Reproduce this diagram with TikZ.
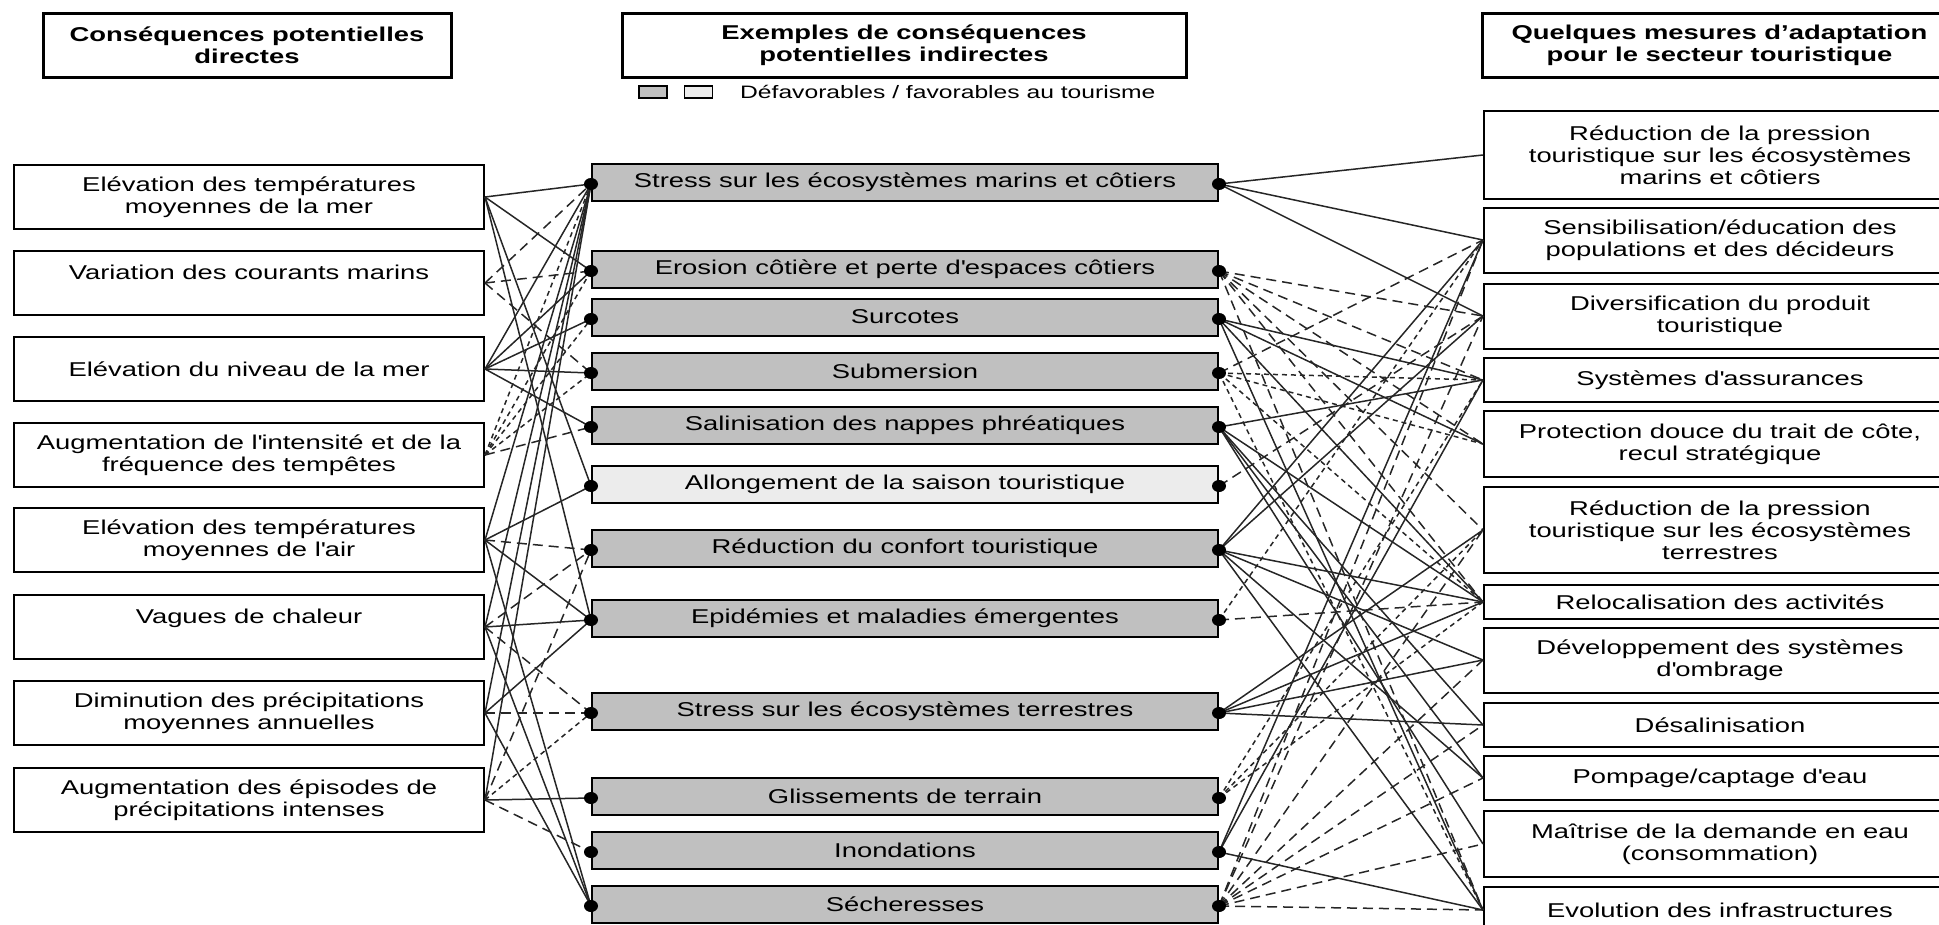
\documentclass[tikz,border=0pt]{standalone}
\usepackage{fontspec}
\setmainfont{Liberation Sans}[FakeStretch=1.37]
\usetikzlibrary{positioning}
\definecolor{boxgray}{HTML}{C0C0C0}
\definecolor{boxlight}{HTML}{ECECEC}
\definecolor{linkdark}{HTML}{262626}
\newcommand{\ap}{\textquotesingle}
\tikzset{every node/.append style={font=\fontsize{20}{22}\selectfont}}

\begin{document}
\begin{tikzpicture}[x=1pt,y=-1pt,
  head/.style={draw,line width=3pt,align=center,minimum height=64pt,inner sep=0pt,
    font=\fontsize{20}{22}\selectfont\bfseries},
  cause/.style={draw,line width=2pt,align=center,minimum width=470pt,minimum height=64pt,inner sep=0pt},
  effect/.style={draw,line width=2pt,fill=boxgray,minimum width=626pt,minimum height=37pt,inner sep=0pt},
  measure/.style={draw,line width=2pt,anchor=west,align=center,minimum width=472pt,inner sep=0pt},
  link/.style={linkdark,line width=1.5pt},
  longdash/.style={link,dash pattern=on 10pt off 6pt},
  shortdash/.style={link,dash pattern=on 5pt off 4pt},
  dot/.style={fill=black}]
  \useasboundingbox (0,0) rectangle (1939,924);

  % headers
  \node[head,minimum width=408pt] (h1) at (247,45) {Conséquences potentielles\\directes};
  \node[head,minimum width=564pt] (h2) at (904,45) {Exemples de conséquences\\potentielles indirectes};
  \node[head,minimum width=474pt,anchor=west] (h3) at (1481,45) {Quelques mesures d’adaptation\\pour le secteur touristique};
  \node[draw,line width=1.3pt,fill=boxgray,minimum width=28pt,minimum height=12pt,inner sep=0pt] (k1) at (653,92) {};
  \node[draw,line width=1.3pt,fill=boxlight,minimum width=28pt,minimum height=12pt,inner sep=0pt,right=16pt of k1] (k2) {};
  \node[right=27pt of k2,inner sep=0pt,font=\fontsize{18}{20}\selectfont] (k3) {Défavorables / favorables au tourisme};

  % direct consequences
  \node[cause] (l1) at (249,197) {Elévation des températures\\moyennes de la mer};
  \node[cause] (l2) at (249,283) {Variation des courants marins\\\mbox{}};
  \node[cause] (l3) at (249,369) {Elévation du niveau de la mer};
  \node[cause] (l4) at (249,455) {Augmentation de l\ap intensité et de la\\fréquence des tempêtes};
  \node[cause] (l5) at (249,540) {Elévation des températures\\moyennes de l\ap air};
  \node[cause] (l6) at (249,627) {Vagues de chaleur\\\mbox{}};
  \node[cause] (l7) at (249,713) {Diminution des précipitations\\moyennes annuelles};
  \node[cause] (l8) at (249,800) {Augmentation des épisodes de\\précipitations intenses};

  % indirect consequences
  \node[effect] (m1) at (905,182) {Stress sur les écosystèmes marins et côtiers};
  \node[effect] (m2) at (905,269) {Erosion côtière et perte d\ap espaces côtiers};
  \node[effect] (m3) at (905,317) {Surcotes};
  \node[effect] (m4) at (905,371) {Submersion};
  \node[effect] (m5) at (905,425) {Salinisation des nappes phréatiques};
  \node[effect,fill=boxlight] (m6) at (905,484) {Allongement de la saison touristique};
  \node[effect] (m7) at (905,548) {Réduction du confort touristique};
  \node[effect] (m8) at (905,618) {Epidémies et maladies émergentes};
  \node[effect] (m9) at (905,711) {Stress sur les écosystèmes terrestres};
  \node[effect] (m10) at (905,796) {Glissements de terrain};
  \node[effect] (m11) at (905,850) {Inondations};
  \node[effect] (m12) at (905,904) {Sécheresses};
  \foreach \m in {1,...,12} {
    \coordinate (m\m-in) at ([yshift=-2pt]m\m.west);
    \coordinate (m\m-out) at ([yshift=-2pt]m\m.east);
  }

  % adaptation measures
  \node[measure,minimum height=88pt] (r1) at (1483,155) {Réduction de la pression\\touristique sur les écosystèmes\\marins et côtiers};
  \node[measure,minimum height=65pt] (r2) at (1483,240) {Sensibilisation/éducation des\\populations et des décideurs};
  \node[measure,minimum height=65pt] (r3) at (1483,316) {Diversification du produit\\touristique};
  \node[measure,minimum height=44pt] (r4) at (1483,380) {Systèmes d\ap assurances};
  \node[measure,minimum height=66pt] (r5) at (1483,444) {Protection douce du trait de côte,\\recul stratégique};
  \node[measure,minimum height=86pt] (r6) at (1483,530) {Réduction de la pression\\touristique sur les écosystèmes\\terrestres};
  \node[measure,minimum height=34pt] (r7) at (1483,602) {Relocalisation des activités};
  \node[measure,minimum height=65pt] (r8) at (1483,660) {Développement des systèmes\\d\ap ombrage};
  \node[measure,minimum height=44pt] (r9) at (1483,725) {Désalinisation};
  \node[measure,minimum height=44pt] (r10) at (1483,778) {Pompage/captage d\ap eau};
  \node[measure,minimum height=66pt] (r11) at (1483,844) {Maîtrise de la demande en eau\\(consommation)};
  \node[measure,minimum height=46pt] (r12) at (1483,910) {Evolution des infrastructures};

  % direct -> indirect
  \foreach \a/\b in {l1/m1,l1/m2,l1/m6,l1/m8,l3/m1,l3/m2,l3/m3,l3/m4,l3/m5,
      l5/m1,l5/m6,l5/m8,l5/m12,l6/m1,l6/m8,l6/m12,l7/m1,l7/m8,l7/m12,l8/m1,l8/m10}
    \draw[link] (\a.east) -- (\b-in);
  \foreach \a/\b in {l2/m1,l2/m2,l2/m4,l4/m5,l5/m7,l6/m7,l6/m9,l7/m9,l8/m7,l8/m11}
    \draw[longdash] (\a.east) -- (\b-in);
  \foreach \a/\b in {l4/m1,l4/m2,l4/m3,l4/m4,l8/m9}
    \draw[shortdash] (\a.east) -- (\b-in);

  % indirect -> measures
  \foreach \a/\b in {m1/r1,m1/r2,m1/r3,m3/r4,m3/r5,m3/r7,m3/r12,m5/r4,m5/r7,m5/r9,m5/r10,m5/r11,
      m7/r2,m7/r3,m7/r7,m7/r8,m7/r10,m7/r12,m9/r6,m9/r7,m9/r8,m9/r9,m11/r2,m11/r4,m11/r12}
    \draw[link] (\a-out) -- (\b.west);
  \foreach \a/\b in {m2/r3,m2/r4,m2/r5,m2/r6,m2/r7,m2/r12,m4/r2,m6/r3,m8/r7,
      m12/r2,m12/r3,m12/r6,m12/r8,m12/r9,m12/r10,m12/r11,m12/r12}
    \draw[longdash] (\a-out) -- (\b.west);
  \foreach \a/\b in {m4/r4,m4/r5,m4/r7,m4/r12,m8/r2,m10/r4,m10/r6,m10/r7}
    \draw[shortdash] (\a-out) -- (\b.west);

  \foreach \m in {1,...,12} {
    \fill[dot] (m\m-in) ellipse[x radius=7pt,y radius=6pt];
    \fill[dot] (m\m-out) ellipse[x radius=7pt,y radius=6pt];
  }
\end{tikzpicture}
\end{document}
